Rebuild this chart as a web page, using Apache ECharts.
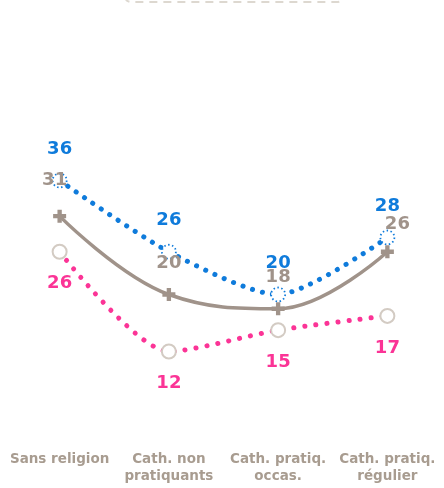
<!DOCTYPE html>
<html><head><meta charset="utf-8">
<script src="https://cdn.jsdelivr.net/npm/echarts@6/dist/echarts.min.js"></script>
<style>html,body{margin:0;padding:0;background:#fff}#c{width:444px;height:488px}</style>
</head><body><div id="c"></div>
<script>
var categories = ['Sans religion', 'Cath. non\npratiquants', 'Cath. pratiq.\noccas.', 'Cath. pratiq.\nrégulier'];
var blueValues = [36, 26, 20, 28];
var greyValues = [31, 20, 18, 26];
var pinkValues = [26, 12, 15, 17];
var greyLabelOffsets = [[-5, -36], [0, -31], [0, -31], [10, -27]];

var BLUE = '#0f7bdb', GREY = '#a0938a', PINK = '#fb3496', RING = '#d3cbc3';
var FONT = '"DejaVu Sans", sans-serif';
var chart = echarts.init(document.getElementById('c'));
var plus = 'path://M4,0 H8 V4 H12 V8 H8 V12 H4 V8 H0 V4 H4 Z';
chart.setOption({
  animation: false,
  grid: {left: 5, right: 2, top: 152, bottom: 51},
  xAxis: {
    type: 'category', data: categories, boundaryGap: true,
    axisLine: {show: false}, axisTick: {show: false}, splitLine: {show: false},
    axisLabel: {color: '#a89c90', fontWeight: 'bold', fontSize: 13.5, fontFamily: FONT, margin: 14, lineHeight: 17, interval: 0}
  },
  yAxis: {type: 'value', min: 0, max: 40, show: false, splitLine: {show: false}},
  graphic: [{
    type: 'rect', shape: {x: 125, y: -40, width: 218, height: 42, r: 6},
    style: {fill: 'none', stroke: '#ddd8d0', lineWidth: 2, lineDash: [8, 6]}
  }],
  series: [
    {
      type: 'line', data: pinkValues, smooth: 0.25, z: 2,
      lineStyle: {color: PINK, width: 5, type: [0.1, 11], cap: 'round'},
      symbol: 'circle', symbolSize: 14, showAllSymbol: true,
      itemStyle: {color: '#fff', borderColor: RING, borderWidth: 2},
      label: {show: true, position: 'inside', offset: [0, 32], color: PINK, fontSize: 18, fontWeight: 'bold', fontFamily: FONT}
    },
    {
      type: 'line', data: blueValues, smooth: 0.25, z: 3,
      lineStyle: {color: BLUE, width: 5, type: [0.1, 10], cap: 'round'},
      symbol: 'circle', symbolSize: 14,
      itemStyle: {color: '#fff', borderColor: BLUE, borderWidth: 1.8, borderType: [1.5, 2.5]},
      label: {show: true, position: 'inside', offset: [0, -31], color: BLUE, fontSize: 18, fontWeight: 'bold', fontFamily: FONT}
    },
    {
      type: 'line', data: greyValues.map(function (v, i) {
        return {value: v, label: {offset: greyLabelOffsets[i]}};
      }), smooth: 0.4, z: 4,
      lineStyle: {color: GREY, width: 3.5},
      symbol: plus, symbolSize: 13,
      itemStyle: {color: GREY},
      label: {show: true, position: 'inside', color: GREY, fontSize: 18, fontWeight: 'bold', fontFamily: FONT}
    }
  ]
});
</script></body></html>
